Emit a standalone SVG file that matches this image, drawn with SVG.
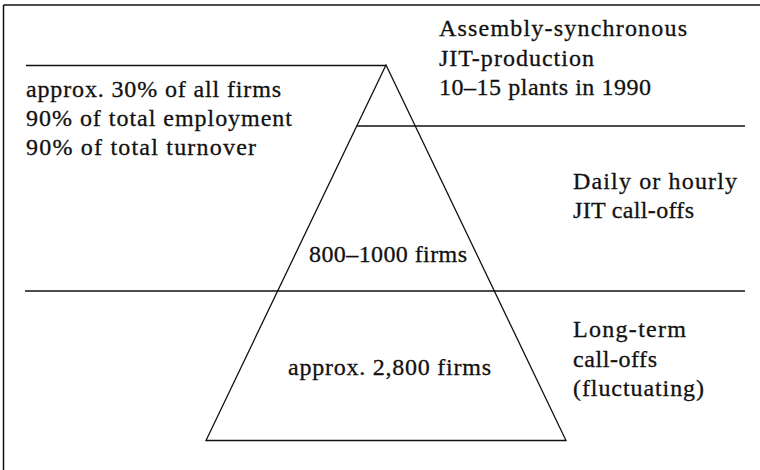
<svg xmlns="http://www.w3.org/2000/svg" width="760" height="470" viewBox="0 0 760 470">
  <style>
    .ln { stroke: #111; stroke-width: 1.5; fill: none; }
    .tri { stroke: #111; stroke-width: 1.3; fill: none; stroke-linejoin: miter; }
    text { font-family: "Liberation Serif", "Times New Roman", serif; font-size: 24px; fill: #111; stroke: #111; stroke-width: 0.3; }
  </style>
  <rect width="760" height="470" fill="#fff"/>

  <!-- frame: top and left edges -->
  <g id="frame">
    <line class="ln" x1="3.5" y1="5" x2="760" y2="5"/>
    <line class="ln" x1="3.5" y1="5" x2="3.5" y2="470"/>
  </g>

  <!-- pyramid and level separators -->
  <g id="connectors">
    <polygon class="tri" points="386,65 206,440.5 566,440.5"/>
    <line class="ln" x1="26" y1="65.5" x2="386" y2="65.5"/>
    <line class="ln" x1="357" y1="126" x2="745" y2="126"/>
    <line class="ln" x1="25" y1="291" x2="745" y2="291"/>
  </g>

  <g id="tier-top">
    <text x="439" y="36" textLength="248">Assembly-synchronous</text>
    <text x="439" y="66" textLength="155">JIT-production</text>
    <text x="439" y="95" textLength="212">10–15 plants in 1990</text>
  </g>

  <g id="tier-top-share">
    <text x="26" y="97" textLength="255">approx. 30% of all firms</text>
    <text x="26" y="126" textLength="266">90% of total employment</text>
    <text x="26" y="155" textLength="230">90% of total turnover</text>
  </g>

  <g id="tier-middle">
    <text x="573" y="189" textLength="164">Daily or hourly</text>
    <text x="573" y="218" textLength="121">JIT call-offs</text>
    <text x="309" y="262" textLength="158">800–1000 firms</text>
  </g>

  <g id="tier-bottom">
    <text x="288" y="375" textLength="203">approx. 2,800 firms</text>
    <text x="573" y="337" textLength="113">Long-term</text>
    <text x="573" y="367" textLength="84">call-offs</text>
    <text x="573" y="396" textLength="131">(fluctuating)</text>
  </g>
</svg>
